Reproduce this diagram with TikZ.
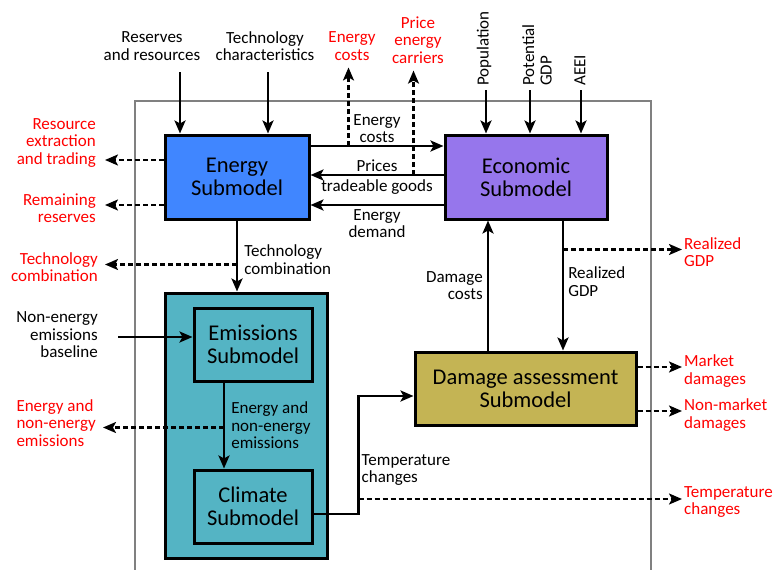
\documentclass[tikz,border=0pt]{standalone}
\usepackage{fontspec}
\setmainfont{Carlito}
\usetikzlibrary{arrows.meta,positioning,calc}
\definecolor{energyblue}{RGB}{64,134,255}
\definecolor{econpurple}{RGB}{150,118,236}
\definecolor{climteal}{RGB}{84,180,196}
\definecolor{dmgolive}{RGB}{196,180,84}
\newcommand\lblsize{\fontsize{17}{17.5}\selectfont}
\newcommand\boxsize{\fontsize{22.5}{23}\selectfont}

\begin{document}
\begin{tikzpicture}[x=1pt,y=-1pt,
    model/.style={draw,line width=3pt,align=center,font=\boxsize,inner sep=0pt},
    lbl/.style={align=center,font=\lblsize,inner sep=2pt},
    result/.style={lbl,text=red},
    arr/.style={line width=2.6pt,-{Stealth[length=13pt,width=11pt,inset=3pt]}},
    dasharr/.style={line width=2.2pt,dash pattern=on 5pt off 3pt,-{Stealth[length=13pt,width=11pt,inset=3pt]}},
    frame/.style={draw=black!50,line width=2pt}]
  \useasboundingbox (0,0) rectangle (779,570);
  \draw[frame] (135,570) |- (651,101) -- (651,570);

  % submodels
  \node[model,fill=energyblue,minimum width=144pt,minimum height=84pt] (energy) at (237,177) {Energy\\Submodel};
  \node[model,fill=econpurple,minimum width=162pt,minimum height=84pt] (econ) at (526,177) {Economic\\Submodel};
  \node[model,fill=climteal,minimum width=162pt,minimum height=265pt] (earth) at (246,425.5) {};
  \node[model,fill=climteal,minimum width=118pt,minimum height=73pt] (emis) at (253,344.5) {Emissions\\Submodel};
  \node[model,fill=climteal,minimum width=118pt,minimum height=73pt] (clim) at (253,506.5) {Climate\\Submodel};
  \node[model,fill=dmgolive,minimum width=221pt,minimum height=73pt] (dmg) at (525.5,388.5) {Damage assessment\\Submodel};

  % inputs
  \node[lbl] (res) at (152,46) {Reserves\\and resources};
  \node[lbl] (techchar) at (265,46) {Technology\\characteristics};
  \node[lbl,rotate=90,anchor=west] (pop) at (484,88) {Population};
  \node[lbl,rotate=90,anchor=west,align=left] (pgdp) at (537,88) {Potential\\GDP};
  \node[lbl,rotate=90,anchor=west] (aeei) at (580,88) {AEEI};
  \node[lbl,align=right,anchor=east,inner xsep=0pt] (nonen) at (98,335) {Non-energy\\emissions\\baseline};

  % outputs
  \node[result] (ecred) at (352,46) {Energy\\costs};
  \node[result] (pecred) at (418,40) {Price\\energy\\carriers};
  \node[result,align=right,anchor=east,inner xsep=9pt] (rexred) at (105,143) {Resource\\extraction\\and trading};
  \node[result,align=right,anchor=east,inner xsep=9pt] (remred) at (105,208) {Remaining\\reserves};
  \node[result,align=right,anchor=east,inner xsep=7pt] (techred) at (105,267) {Technology\\combination};
  \node[result,align=left,anchor=east,inner xsep=7pt] (emisred) at (103,423) {Energy and\\non-energy\\emissions};
  \node[result,align=left,anchor=west] (rgdpred) at (682,252) {Realized\\GDP};
  \node[result,align=left,anchor=west] (mkred) at (682,371) {Market\\damages};
  \node[result,align=left,anchor=west] (nmred) at (682,415) {Non-market\\damages};
  \node[result,align=left,anchor=west] (tcred) at (682,502) {Temperature\\changes};

  \coordinate (resin) at (180,72);
  \coordinate (techin) at (268,72);
  \coordinate (popin) at (486,90);
  \coordinate (gdpin) at (530,90);
  \coordinate (aeeiin) at (581,90);
  \coordinate (nebin) at (118,337);
  \coordinate (ec) at ([yshift=31pt]energy.east);
  \coordinate (pr) at ([yshift=2pt]econ.west);
  \coordinate (ed) at ([yshift=-28pt]econ.west);
  \coordinate (ecup) at ([xshift=38pt]ec);
  \coordinate (prup) at ([xshift=-30pt]pr);
  \coordinate (rx) at ([yshift=17pt]energy.west);
  \coordinate (rm) at ([yshift=-28pt]energy.west);
  \coordinate (tc) at ([yshift=-44pt]energy.south);
  \coordinate (ee) at ([xshift=-29pt]emis.south);
  \coordinate (eed) at ([yshift=-45pt]ee);
  \coordinate (rgtop) at ([xshift=37pt]econ.south);
  \coordinate (rgd) at ([yshift=-29pt]rgtop);
  \coordinate (dcbot) at ([xshift=-37.5pt]dmg.north);
  \coordinate (mk) at ([yshift=21.5pt]dmg.east);
  \coordinate (nm) at ([yshift=-22.5pt]dmg.east);
  \coordinate (cl) at ([yshift=-7.5pt]clim.east);
  \coordinate (dm) at ([yshift=-7.5pt]dmg.west);
  \coordinate (bend) at ([xshift=45pt]cl);
  \coordinate (td) at ([yshift=15pt]bend);

  % dashed outputs
  \draw[dasharr,shorten >=5pt] (ecup) -- (ecup |- ecred.south);
  \draw[dasharr,shorten >=5pt] (prup) -- (prup |- pecred.south);
  \draw[dasharr] (rx) -- (rx -| rexred.east);
  \draw[dasharr] (rm) -- (rm -| remred.east);
  \draw[dasharr] (tc) -- (tc -| techred.east);
  \draw[dasharr] (eed) -- (eed -| emisred.east);
  \draw[dasharr] (rgd) -- (rgd -| rgdpred.west);
  \draw[dasharr] (mk) -- (mk -| mkred.west);
  \draw[dasharr] (nm) -- (nm -| nmred.west);
  \draw[dasharr] (td) -- (td -| tcred.west);

  % flows
  \draw[arr] (resin) -- (resin |- energy.north);
  \draw[arr] (techin) -- (techin |- energy.north);
  \draw[arr] (popin) -- (popin |- econ.north);
  \draw[arr] (gdpin) -- (gdpin |- econ.north);
  \draw[arr] (aeeiin) -- (aeeiin |- econ.north);
  \draw[arr] (ec) -- (ec -| econ.west) node[midway,lbl,above=0pt] {Energy\\costs};
  \draw[arr] (pr) -- (pr -| energy.east) node[midway,lbl,above=0pt] {Prices}
    node[midway,lbl,below=1pt] {tradeable goods};
  \draw[arr] (ed) -- (ed -| energy.east) node[midway,lbl,below=1pt] {Energy\\demand};
  \draw[arr] (energy.south) -- (energy.south |- earth.north)
    node[pos=0.55,lbl,align=left,right=4pt] {Technology\\combination};
  \draw[arr] (nebin) -- (nebin -| emis.west);
  \draw[arr] (ee) -- (ee |- clim.north)
    node[midway,lbl,align=left,right=4pt] {Energy and\\non-energy\\emissions};
  \draw[arr] (cl) -- (bend) |- (dm);
  \node[lbl,align=left,right=1pt] at ([yshift=44pt]bend) {Temperature\\changes};
  \draw[arr] (rgtop) -- (rgtop |- dmg.north)
    node[pos=0.47,lbl,align=left,right=2pt] {Realized\\GDP};
  \draw[arr] (dcbot) -- (dcbot |- econ.south)
    node[pos=0.5,lbl,align=right,left=2pt] {Damage\\costs};
\end{tikzpicture}
\end{document}
